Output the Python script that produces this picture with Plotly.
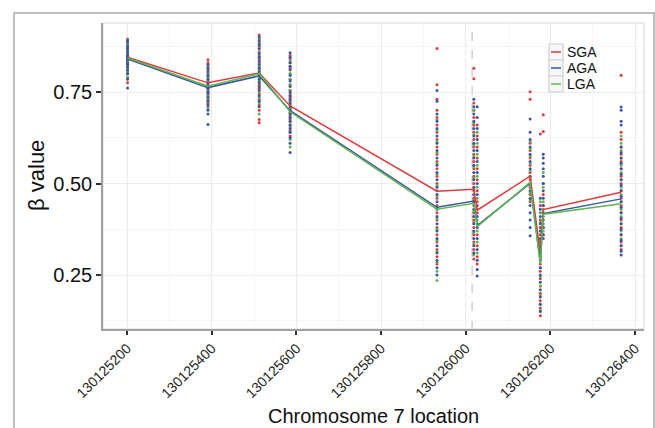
import plotly.graph_objects as go

# CpG site positions on chromosome 7
sites = [130125201, 130125391, 130125512, 130125585, 130125932, 130126019,
         130126027, 130126152, 130126176, 130126183, 130126367]

# Group mean beta value at each site
sga_mean = [0.845, 0.775, 0.802, 0.712, 0.479, 0.484, 0.427, 0.520, 0.310, 0.429, 0.476]
aga_mean = [0.840, 0.762, 0.794, 0.699, 0.435, 0.452, 0.385, 0.500, 0.285, 0.418, 0.458]
lga_mean = [0.843, 0.766, 0.800, 0.696, 0.430, 0.446, 0.382, 0.503, 0.280, 0.416, 0.445]

# Individual sample beta values, one list per site
sga_points = [
    [0.895, 0.88, 0.87, 0.865, 0.86, 0.855, 0.85, 0.845, 0.84, 0.835, 0.83, 0.825, 0.82, 0.81, 0.80, 0.79, 0.775],
    [0.838, 0.83, 0.82, 0.81, 0.80, 0.79, 0.78, 0.775, 0.77, 0.76, 0.75, 0.74, 0.73, 0.72, 0.71],
    [0.906, 0.895, 0.885, 0.875, 0.86, 0.85, 0.84, 0.83, 0.82, 0.81, 0.80, 0.79, 0.78, 0.77, 0.76, 0.745, 0.73, 0.715, 0.70, 0.675, 0.666],
    [0.85, 0.84, 0.83, 0.815, 0.80, 0.785, 0.77, 0.755, 0.745, 0.735, 0.725, 0.715, 0.705, 0.695, 0.685, 0.675, 0.66, 0.645, 0.63],
    [0.869, 0.77, 0.73, 0.70, 0.68, 0.66, 0.64, 0.62, 0.60, 0.58, 0.56, 0.54, 0.52, 0.50, 0.48, 0.46, 0.44, 0.42, 0.40, 0.38, 0.36, 0.34, 0.32, 0.30, 0.28],
    [0.815, 0.786, 0.72, 0.70, 0.68, 0.66, 0.64, 0.62, 0.60, 0.58, 0.56, 0.54, 0.52, 0.50, 0.48, 0.46, 0.44, 0.42, 0.40, 0.38, 0.36, 0.34, 0.32, 0.294],
    [0.66, 0.63, 0.60, 0.57, 0.54, 0.51, 0.48, 0.45, 0.42, 0.39, 0.36, 0.33, 0.30, 0.28],
    [0.751, 0.73, 0.61, 0.59, 0.57, 0.55, 0.53, 0.51, 0.49, 0.47, 0.45],
    [0.635, 0.44, 0.42, 0.40, 0.38, 0.36, 0.34, 0.32, 0.30, 0.28, 0.26, 0.24, 0.22, 0.20, 0.18, 0.16, 0.139],
    [0.688, 0.642, 0.50, 0.47, 0.44, 0.41, 0.38, 0.36],
    [0.796, 0.64, 0.62, 0.60, 0.58, 0.56, 0.54, 0.52, 0.50, 0.48, 0.46, 0.44, 0.42, 0.40, 0.38, 0.36, 0.34, 0.32],
]
aga_points = [
    [0.89, 0.885, 0.875, 0.868, 0.86, 0.852, 0.848, 0.842, 0.838, 0.83, 0.826, 0.818, 0.81, 0.80, 0.785, 0.761],
    [0.825, 0.815, 0.805, 0.795, 0.785, 0.775, 0.768, 0.76, 0.752, 0.745, 0.735, 0.725, 0.715, 0.70, 0.69, 0.661],
    [0.90, 0.89, 0.88, 0.868, 0.855, 0.845, 0.835, 0.825, 0.815, 0.805, 0.795, 0.785, 0.775, 0.765, 0.755, 0.74, 0.725, 0.71],
    [0.857, 0.845, 0.83, 0.82, 0.81, 0.795, 0.78, 0.765, 0.75, 0.74, 0.73, 0.72, 0.71, 0.70, 0.69, 0.68, 0.67, 0.66, 0.65, 0.64, 0.625, 0.61, 0.585],
    [0.754, 0.725, 0.69, 0.67, 0.65, 0.63, 0.61, 0.59, 0.57, 0.55, 0.53, 0.51, 0.49, 0.47, 0.45, 0.43, 0.41, 0.39, 0.37, 0.35, 0.33, 0.31, 0.29, 0.27, 0.25],
    [0.73, 0.71, 0.69, 0.67, 0.65, 0.63, 0.61, 0.59, 0.57, 0.55, 0.53, 0.51, 0.49, 0.47, 0.45, 0.43, 0.41, 0.39, 0.37, 0.35, 0.33, 0.31],
    [0.71, 0.68, 0.65, 0.62, 0.59, 0.56, 0.53, 0.50, 0.47, 0.44, 0.41, 0.38, 0.35, 0.32, 0.29, 0.265, 0.247],
    [0.676, 0.64, 0.62, 0.60, 0.58, 0.56, 0.54, 0.52, 0.50, 0.48, 0.46, 0.44, 0.42, 0.40, 0.38, 0.357],
    [0.46, 0.43, 0.41, 0.39, 0.37, 0.35, 0.33, 0.31, 0.29, 0.27, 0.25, 0.23, 0.21, 0.19, 0.17, 0.15],
    [0.58, 0.57, 0.555, 0.54, 0.52, 0.50, 0.48, 0.46, 0.44, 0.42, 0.40, 0.38, 0.36, 0.35],
    [0.709, 0.70, 0.67, 0.66, 0.60, 0.585, 0.57, 0.555, 0.54, 0.525, 0.51, 0.495, 0.48, 0.465, 0.45, 0.435, 0.42, 0.405, 0.39, 0.375, 0.36, 0.345, 0.33, 0.315, 0.305],
]
lga_points = [
    [0.892, 0.878, 0.87, 0.862, 0.856, 0.849, 0.843, 0.837, 0.832, 0.824, 0.815, 0.805, 0.79],
    [0.82, 0.80, 0.79, 0.778, 0.766, 0.758, 0.748, 0.738, 0.728, 0.718, 0.705],
    [0.898, 0.882, 0.87, 0.858, 0.846, 0.832, 0.82, 0.81, 0.80, 0.79, 0.778, 0.765, 0.75, 0.735, 0.72, 0.69],
    [0.835, 0.82, 0.80, 0.785, 0.77, 0.755, 0.74, 0.728, 0.716, 0.704, 0.692, 0.68, 0.668, 0.655, 0.64, 0.62, 0.60],
    [0.675, 0.645, 0.615, 0.585, 0.555, 0.525, 0.495, 0.465, 0.435, 0.405, 0.375, 0.345, 0.315, 0.285, 0.26, 0.235],
    [0.70, 0.665, 0.635, 0.605, 0.575, 0.545, 0.515, 0.485, 0.455, 0.425, 0.395, 0.365, 0.335, 0.305],
    [0.64, 0.61, 0.58, 0.55, 0.52, 0.49, 0.46, 0.43, 0.40, 0.37, 0.34, 0.31],
    [0.615, 0.595, 0.575, 0.555, 0.535, 0.515, 0.495, 0.475, 0.455],
    [0.45, 0.42, 0.395, 0.37, 0.345, 0.32, 0.295, 0.27, 0.245, 0.22, 0.195, 0.17, 0.155],
    [0.53, 0.49, 0.45, 0.43, 0.39, 0.37],
    [0.63, 0.61, 0.59, 0.57, 0.55, 0.53, 0.51, 0.49, 0.47, 0.45, 0.43, 0.41, 0.39, 0.37, 0.35, 0.33],
]

group_names = ["SGA", "AGA", "LGA"]
group_colors = {"SGA": "#E2383A", "AGA": "#3B55A5", "LGA": "#5DB54F"}
boundary_pos = 130126015

x_ticks = [130125200, 130125400, 130125600, 130125800, 130126000, 130126200, 130126400]
y_ticks = [0.25, 0.50, 0.75]
y_tick_text = ["0.25", "0.50", "0.75"]

x_title = "Chromosome 7 location"
y_title = "β value"

FONT = "Liberation Sans, Arial, Helvetica, sans-serif"

# plot-area geometry (pixels) used to place titles and the compact key
W, H = 655, 428
ML, MR, MT, MB = 103, 11, 23, 99
PW, PH = W - ML - MR, H - MT - MB


def px_x(px):
    return (px - ML) / PW


def px_y(py):
    return 1 - (py - MT) / PH


fig = go.Figure()

point_sets = {"SGA": sga_points, "AGA": aga_points, "LGA": lga_points}
means = {"SGA": sga_mean, "AGA": aga_mean, "LGA": lga_mean}

# sample dots (blue drawn last so it sits on top)
for g in ["SGA", "LGA", "AGA"]:
    xs, ys = [], []
    for pos, vals in zip(sites, point_sets[g]):
        xs.extend([pos] * len(vals))
        ys.extend(vals)
    fig.add_trace(go.Scatter(
        x=xs, y=ys, mode="markers", showlegend=False, hoverinfo="skip",
        marker=dict(size=3, color=group_colors[g], line=dict(width=0)),
    ))

# group mean lines
for g in group_names:
    fig.add_trace(go.Scatter(
        x=sites, y=means[g], mode="lines", name=g, showlegend=False,
        line=dict(color=group_colors[g], width=1.5),
    ))

# boundary marker
fig.add_shape(type="line", xref="x", yref="paper", x0=boundary_pos, x1=boundary_pos,
              y0=0, y1=1, line=dict(color="#cfcfcf", width=1.5, dash="dash"), layer="below")

# panel border
fig.add_shape(type="rect", xref="paper", yref="paper", x0=0, x1=1, y0=0, y1=1,
              line=dict(color="#d6d6d6", width=1), layer="below")
# outer frame
fig.add_shape(type="rect", xref="paper", yref="paper", x0=px_x(14), x1=px_x(654),
              y0=px_y(440), y1=px_y(13), line=dict(color="#a9a9a9", width=1.5))

# compact key: grey key boxes, coloured line glyphs and labels
key_top = 44
row_h = 16
for i, g in enumerate(group_names):
    y0 = key_top + i * row_h
    yc = y0 + row_h / 2
    fig.add_shape(type="rect", xref="paper", yref="paper",
                  x0=px_x(549), x1=px_x(563), y0=px_y(y0 + row_h), y1=px_y(y0),
                  line=dict(color="#cfcfcf", width=1.2), fillcolor="#f7f7f7")
    fig.add_shape(type="line", xref="paper", yref="paper",
                  x0=px_x(551), x1=px_x(561), y0=px_y(yc), y1=px_y(yc),
                  line=dict(color=group_colors[g], width=1.5))
    fig.add_annotation(xref="paper", yref="paper", x=px_x(565), y=px_y(yc),
                       text=g, showarrow=False, xanchor="left", yanchor="middle",
                       font=dict(size=14, family=FONT, color="#111"))

# axis titles
fig.add_annotation(xref="paper", yref="paper", x=px_x(373), y=px_y(416),
                   text=x_title, showarrow=False, xanchor="center", yanchor="middle",
                   font=dict(size=20, family=FONT, color="#111"))
fig.add_annotation(xref="paper", yref="paper", x=px_x(36), y=0.5,
                   text=y_title, showarrow=False, xanchor="center", yanchor="middle",
                   textangle=-90, font=dict(size=22, family=FONT, color="#111"))

fig.update_layout(
    width=W, height=H,
    margin=dict(l=ML, r=MR, t=MT, b=MB, autoexpand=False),
    paper_bgcolor="white", plot_bgcolor="white",
    font=dict(family=FONT, color="#111"),
    showlegend=False,
    xaxis=dict(
        range=[130125143, 130126421], tickvals=x_ticks,
        ticktext=[str(v) for v in x_ticks], tickangle=-45,
        tickfont=dict(size=14, family=FONT, color="#222"),
        ticks="outside", ticklen=4, tickwidth=1.5, tickcolor="#333",
        showgrid=True, gridcolor="#ececec", gridwidth=1,
        minor=dict(dtick=100, tick0=130125100, showgrid=True, gridcolor="#f6f6f6", gridwidth=1),
        showline=True, linecolor="#a0a0a0", linewidth=1.5,
        zeroline=False, automargin=False,
    ),
    yaxis=dict(
        range=[0.1025, 0.9385], tickvals=y_ticks, ticktext=y_tick_text,
        tickfont=dict(size=20, family=FONT, color="#111"),
        ticks="outside", ticklen=5, tickwidth=1.5, tickcolor="#333",
        showgrid=True, gridcolor="#ececec", gridwidth=1,
        minor=dict(tickvals=[0.125, 0.375, 0.625, 0.875], showgrid=True, gridcolor="#f6f6f6", gridwidth=1),
        showline=True, linecolor="#a0a0a0", linewidth=1.5,
        zeroline=False, automargin=False,
    ),
)

fig.write_html("out.html")
